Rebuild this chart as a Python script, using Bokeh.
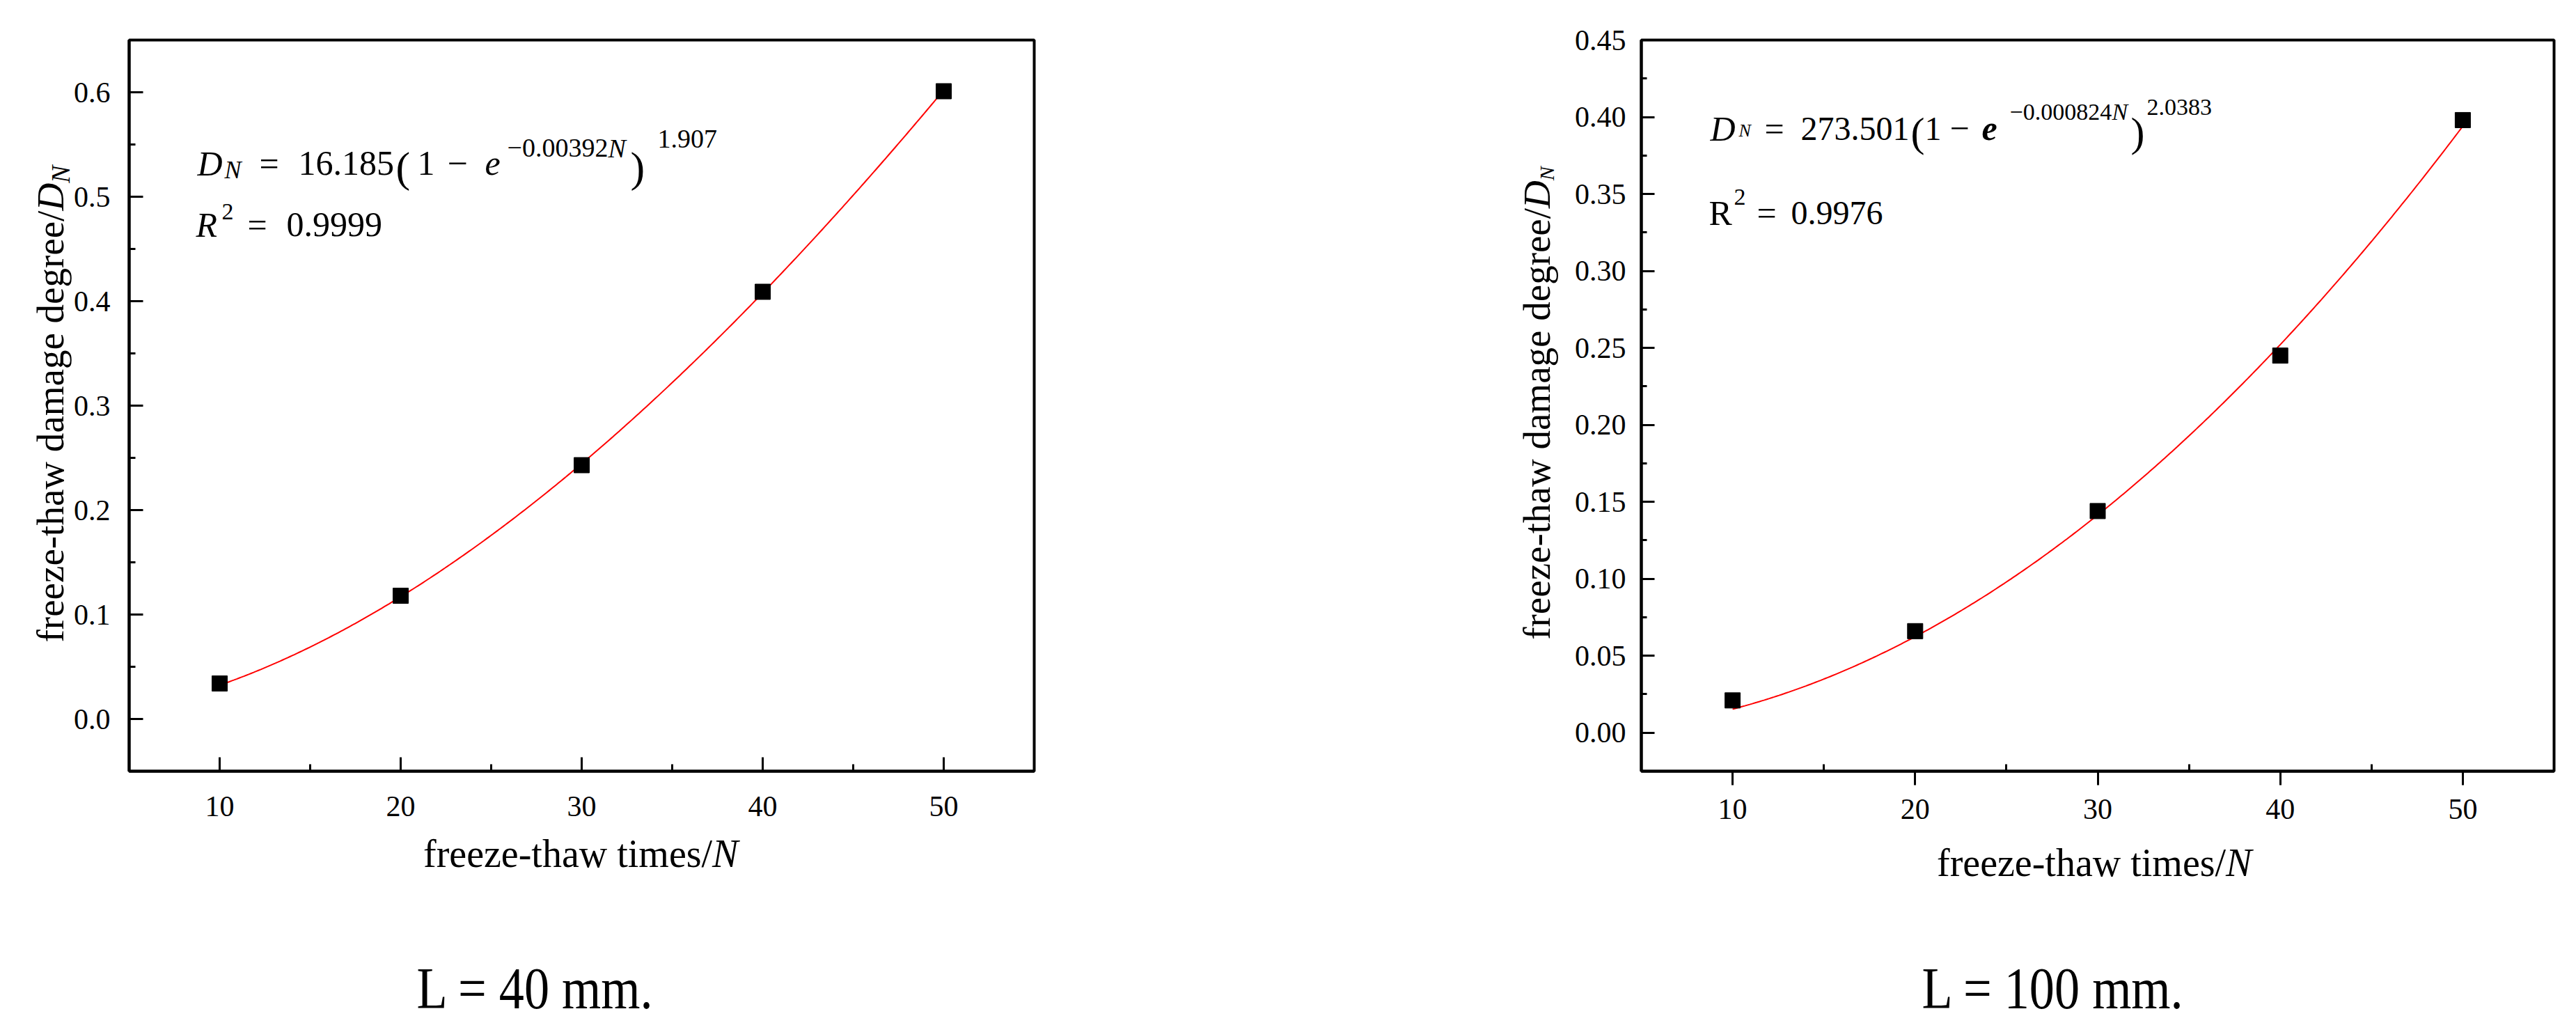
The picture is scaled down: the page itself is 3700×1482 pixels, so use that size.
import numpy as np
from bokeh.plotting import figure
from bokeh.models import Range1d, FixedTicker, NumeralTickFormatter, Label, Div
from bokeh.layouts import row, column
from bokeh.embed import file_html
from bokeh.resources import INLINE

# ---------------- data ----------------
freeze_thaw_N = [10, 20, 30, 40, 50]
damage_L40 = [0.034, 0.118, 0.243, 0.409, 0.601]
damage_L100 = [0.021, 0.066, 0.144, 0.245, 0.398]

# fitted model D_N = a * (1 - exp(-b N))^c, parameters as printed on the chart
fit_L40 = {"a": 16.185, "b": 0.00392, "c": 1.907}
fit_L100 = {"a": 273.501, "b": 0.000824, "c": 2.0383}

x_ticks = [10, 20, 30, 40, 50]
x_minor = [15, 25, 35, 45]
y_ticks_L40 = [0.0, 0.1, 0.2, 0.3, 0.4, 0.5, 0.6]
y_minor_L40 = [0.05, 0.15, 0.25, 0.35, 0.45, 0.55]
y_ticks_L100 = [0.0, 0.05, 0.10, 0.15, 0.20, 0.25, 0.30, 0.35, 0.40, 0.45]
y_minor_L100 = [0.025, 0.075, 0.125, 0.175, 0.225, 0.275, 0.325, 0.375, 0.425]

captions = ["L = 40 mm.", "L = 100 mm."]
x_title = "freeze-thaw times/"
y_title = "freeze-thaw damage degree/"

FONT = "Liberation Serif"
ROW_H = 1198          # height of the plot row
BOTTOM_H = 282        # height of the text strip below
FRAME_TOP, FRAME_BOTTOM = 57, 1107


def fit_curve(par, n):
    return par["a"] * (1.0 - np.exp(-par["b"] * n)) ** par["c"]


def make_fig(w, bl, br, yr):
    p = figure(width=w, height=ROW_H,
               min_border_left=bl, min_border_right=br,
               min_border_top=FRAME_TOP, min_border_bottom=ROW_H - FRAME_BOTTOM,
               x_range=Range1d(5, 55), y_range=Range1d(*yr),
               output_backend="svg", toolbar_location=None, tools="")
    p.xgrid.visible = False
    p.ygrid.visible = False
    p.outline_line_color = "black"
    p.outline_line_width = 4
    p.outline_line_alpha = 1.0
    p.background_fill_color = "white"
    p.border_fill_color = "white"
    for ax in (p.xaxis[0], p.yaxis[0]):
        ax.axis_line_width = 4
        ax.axis_line_color = "black"
        ax.major_tick_line_width = 3
        ax.minor_tick_line_width = 3
        ax.major_tick_line_color = "black"
        ax.minor_tick_line_color = "black"
        ax.major_label_text_font = FONT
        ax.major_label_text_font_size = "42px"
        ax.major_label_text_color = "black"
    return p


def lab(p, fl, X, Y, text, size, style="normal"):
    """Text inside a frame, at page pixel (X, baseline Y); fl = page x of the frame's left edge."""
    p.add_layout(Label(x=X - fl, y=FRAME_BOTTOM - Y, x_units="screen", y_units="screen",
                       text=text, text_font=FONT, text_font_size=f"{size}px",
                       text_font_style=style, text_align="left",
                       text_baseline="alphabetic", text_color="black"))


def base_style(size):
    return (f"position:absolute;left:0;top:0;white-space:nowrap;font-family:'{FONT}',serif;"
            f"font-size:{size}px;line-height:1;color:black;margin:0;padding:0;")


def ytitle_div(w, cx, cy, size, sub_size, sub_drop):
    span = (f'<span style="{base_style(size)}transform-origin:0 0;'
            f'transform:translate({cx}px,{cy}px) rotate(-90deg) translate(-50%,-50%);">'
            f'{y_title}<i>D</i><i style="font-size:{sub_size}px;position:relative;top:{sub_drop}px;">N</i></span>')
    html = f'<div style="position:relative;width:{w}px;height:{ROW_H}px;overflow:visible;">{span}</div>'
    return Div(text=html, width=w, height=ROW_H, margin=0)


nn = np.linspace(freeze_thaw_N[0], freeze_thaw_N[-1], 300)

# ---------------- left panel: L = 40 mm ----------------
FL1 = 183
p1 = make_fig(2048, 81, 665, (-0.05, 0.65))
p1.xaxis.ticker = FixedTicker(ticks=x_ticks, minor_ticks=x_minor)
p1.yaxis.ticker = FixedTicker(ticks=y_ticks_L40, minor_ticks=y_minor_L40)
p1.yaxis.formatter = NumeralTickFormatter(format="0.0")
p1.xaxis.major_tick_in = 20
p1.xaxis.major_tick_out = 0
p1.xaxis.minor_tick_in = 10
p1.xaxis.minor_tick_out = 0
p1.xaxis.major_label_standoff = 36
p1.yaxis.major_tick_in = 20
p1.yaxis.major_tick_out = 0
p1.yaxis.minor_tick_in = 9
p1.yaxis.minor_tick_out = 0
p1.yaxis.major_label_standoff = 27

p1.line(nn, fit_curve(fit_L40, nn), line_color="#ff0000", line_width=2)
p1.scatter(freeze_thaw_N, damage_L40, marker="square", size=22,
           fill_color="black", line_color="black")

lab(p1, FL1, 281, 234, "D", 50, "italic")
lab(p1, FL1, 320, 243, "N", 36, "italic")
lab(p1, FL1, 370, 234, "=", 50)
lab(p1, FL1, 426, 234, "16.185", 50)
lab(p1, FL1, 566, 239, "(", 62)
lab(p1, FL1, 597, 234, "1", 50)
lab(p1, FL1, 640, 234, "\u2212", 52)
lab(p1, FL1, 694, 234, "e", 50, "italic")
lab(p1, FL1, 726, 212, "\u22120.00392", 38)
lab(p1, FL1, 871, 212, "N", 38, "italic")
lab(p1, FL1, 903, 239, ")", 62)
lab(p1, FL1, 942, 199, "1.907", 38)
lab(p1, FL1, 279, 322, "R", 50, "italic")
lab(p1, FL1, 316, 303, "2", 34)
lab(p1, FL1, 353, 322, "=", 50)
lab(p1, FL1, 409, 322, "0.9999", 50)

yt1 = ytitle_div(102, 72, 580, 55, 38, 9)

# ---------------- right panel: L = 100 mm ----------------
FL2 = 2356
p2 = make_fig(1440, 98, 30, (-0.025, 0.45))
p2.xaxis.ticker = FixedTicker(ticks=x_ticks, minor_ticks=x_minor)
p2.yaxis.ticker = FixedTicker(ticks=y_ticks_L100, minor_ticks=y_minor_L100)
p2.yaxis.formatter = NumeralTickFormatter(format="0.00")
p2.xaxis.major_tick_in = 0
p2.xaxis.major_tick_out = 20
p2.xaxis.minor_tick_in = 10
p2.xaxis.minor_tick_out = 0
p2.xaxis.major_label_standoff = 20
p2.yaxis.major_tick_in = 19
p2.yaxis.major_tick_out = 0
p2.yaxis.minor_tick_in = 8
p2.yaxis.minor_tick_out = 0
p2.yaxis.major_label_standoff = 22

p2.line(nn, fit_curve(fit_L100, nn), line_color="#ff0000", line_width=2)
p2.scatter(freeze_thaw_N, damage_L100, marker="square", size=22,
           fill_color="black", line_color="black")

lab(p2, FL2, 2455, 184, "D", 50, "italic")
lab(p2, FL2, 2496, 187, "N", 26, "italic")
lab(p2, FL2, 2533, 184, "=", 50)
lab(p2, FL2, 2585, 184, "273.501", 48)
lab(p2, FL2, 2743, 189, "(", 60)
lab(p2, FL2, 2763, 184, "1", 48)
lab(p2, FL2, 2799, 184, "\u2212", 50)
lab(p2, FL2, 2845, 184, "e", 50, "bold italic")
lab(p2, FL2, 2885, 160, "\u22120.000824", 34)
lab(p2, FL2, 3032, 160, "N", 34, "italic")
lab(p2, FL2, 3059, 189, ")", 60)
lab(p2, FL2, 3082, 153, "2.0383", 34)
lab(p2, FL2, 2453, 305, "R", 50)
lab(p2, FL2, 2489, 282, "2", 34)
lab(p2, FL2, 2522, 305, "=", 50)
lab(p2, FL2, 2571, 305, "0.9976", 48)

yt2 = ytitle_div(108, 57, 579, 55, 30, 6)

# ---------------- text strip below: axis titles and captions ----------------
def xt_span(left, baseline, size):
    top = baseline - round(0.8375 * size) - ROW_H
    return (f'<span style="{base_style(size)}left:{left}px;top:{top}px;">'
            f'{x_title}<i>N</i></span>')


def cap_span(cx, baseline, size, text):
    top = baseline - round(0.8375 * size) - ROW_H
    return (f'<span style="{base_style(size)}left:{cx}px;top:{top}px;'
            f'transform-origin:0 0;transform:scaleX(0.86) translateX(-50%);">{text}</span>')


TOTAL_W = 102 + 2048 + 108 + 1440
bottom_html = (f'<div style="position:relative;width:{TOTAL_W}px;height:{BOTTOM_H}px;overflow:visible;">'
               + xt_span(608, 1245, 56)
               + xt_span(2782, 1258, 56)
               + cap_span(768, 1448, 84, captions[0])
               + cap_span(2948, 1448, 84, captions[1])
               + '</div>')
bottom = Div(text=bottom_html, width=TOTAL_W, height=BOTTOM_H, margin=0)

layout = column(row(yt1, p1, yt2, p2), bottom)
open("out.html", "w").write(file_html(layout, INLINE))
